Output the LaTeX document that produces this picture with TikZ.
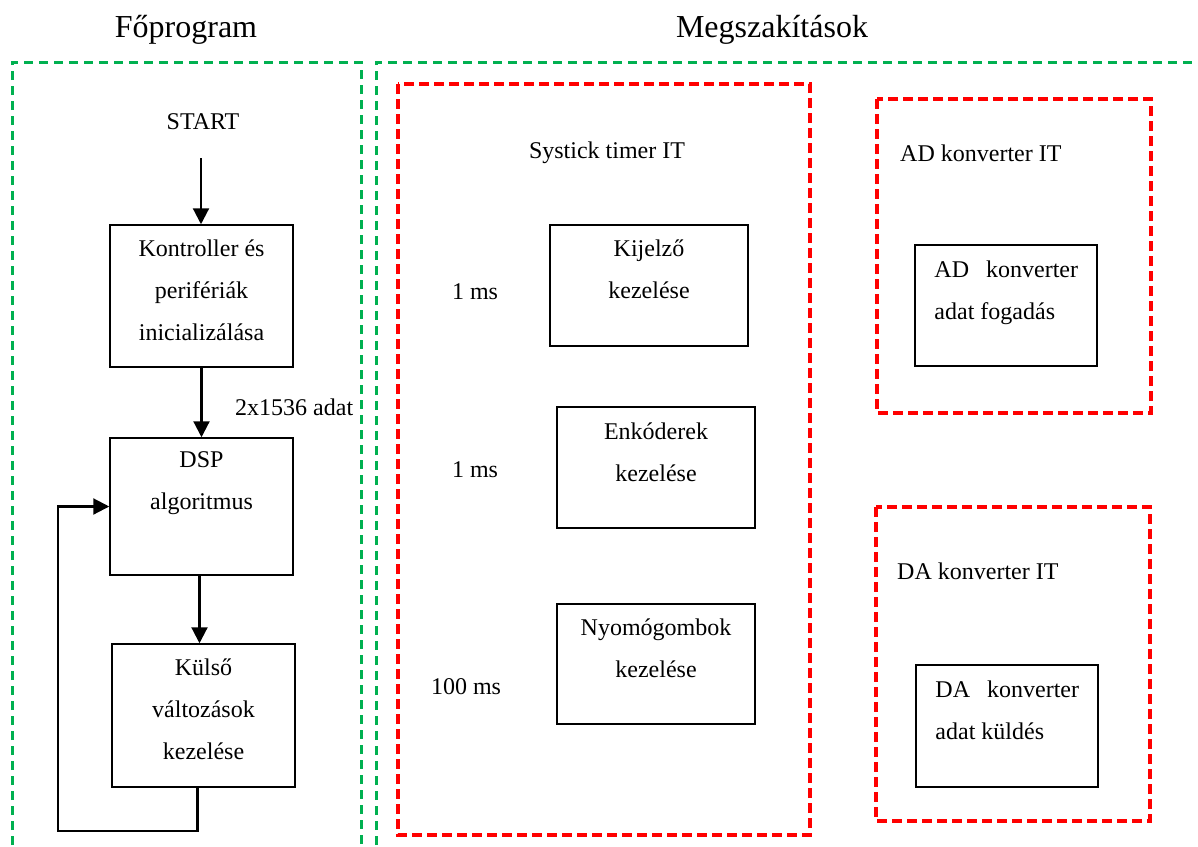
\documentclass[tikz,border=0pt]{standalone}
\usepackage{fontspec}
\setmainfont{Liberation Serif}
\usetikzlibrary{arrows.meta}
\definecolor{grp}{RGB}{0,176,80}
\definecolor{itred}{RGB}{255,0,0}
\begin{document}
\begin{tikzpicture}[x=1pt,y=-1pt,
  every node/.style={font=\fontsize{24}{42}\selectfont, inner sep=0pt},
  title/.style={font=\fontsize{32}{38}\selectfont},
  box/.style={draw, line width=1.5pt},
  txt/.style={align=center, anchor=north},
  ltxt/.style={align=left, anchor=north west},
  arr/.style={line width=2.2pt, -{Triangle[length=16pt,width=16pt]}},
  grpframe/.style={draw=grp, line width=3pt, dash pattern=on 9pt off 6pt},
  itframe/.style={draw=itred, line width=3.3pt, dash pattern=on 10pt off 5pt}]
\clip (0,0) rectangle (1198,846);

% group frames (open towards the page edges)
\draw[grpframe] (12,860) -- (12,62) -- (361,62) -- (361,860);
\draw[grpframe] (376,860) -- (376,62) -- (1215,62);

% interrupt frames
\draw[itframe] (398,84) rectangle (810,835);
\draw[itframe] (877,99) rectangle (1151,413);
\draw[itframe] (876,507) rectangle (1150,821);

% titles
\node[title] (tmain) at (186,30) {Főprogram};
\node[title] (tint) at (772,30) {Megszakítások};

% main program
\node (start) at (203,122) {START};
\coordinate (s0) at (201,158);
\node[box, minimum width=183, minimum height=142] (kontr) at (201.5,296) {};
\node[txt] at ([yshift=-15pt]kontr.north) {Kontroller és\\perifériák\\inicializálása};
\node[box, minimum width=183, minimum height=137] (dsp) at (201.5,506.5) {};
\node[txt] at ([yshift=-14pt]dsp.north) {DSP\\algoritmus};
\node[box, minimum width=183, minimum height=143] (kuls) at (203.5,715.5) {};
\node[txt] at ([yshift=-15pt]kuls.north) {Külső\\változások\\kezelése};
\node[anchor=west] (adat) at (235,407) {2x1536 adat};

\draw[arr] (s0) -- (s0 |- kontr.north);
\draw[arr] (kontr.south) -- (dsp.north);
\draw[arr] ([xshift=-2pt]dsp.south) -- ([xshift=-4pt]kuls.north);
\coordinate (lp) at (58,831);
\draw[arr] ([xshift=-6pt]kuls.south) |- (lp) |- (dsp.west);

% systick interrupt
\node (systick) at (607,153) {Systick timer IT};
\node[box, minimum width=198, minimum height=121] (kij) at (649,285.5) {};
\node[txt] at ([yshift=-15pt]kij.north) {Kijelző\\kezelése};
\node[box, minimum width=198, minimum height=121] (enk) at (656,467.5) {};
\node[txt] at ([yshift=-16pt]enk.north) {Enkóderek\\kezelése};
\node[box, minimum width=198, minimum height=120] (nyo) at (656,664) {};
\node[txt] at ([yshift=-15pt]nyo.north) {Nyomógombok\\kezelése};
\node (t1) at (475,292) {1 ms};
\node (t2) at (475,470) {1 ms};
\node (t3) at (466,687) {100 ms};

% AD converter interrupt
\node[anchor=west] (adit) at (900,153) {AD konverter IT};
\node[box, minimum width=182, minimum height=121] (ad) at (1006,305.5) {};
\node[ltxt] at ([xshift=20pt,yshift=-16pt]ad.north west) {AD\hspace{17pt}konverter\\adat fogadás};

% DA converter interrupt
\node[anchor=west] (dait) at (897,571) {DA konverter IT};
\node[box, minimum width=182, minimum height=122] (da) at (1007,726) {};
\node[ltxt] at ([xshift=20pt,yshift=-16pt]da.north west) {DA\hspace{17pt}konverter\\adat küldés};
\end{tikzpicture}
\end{document}
